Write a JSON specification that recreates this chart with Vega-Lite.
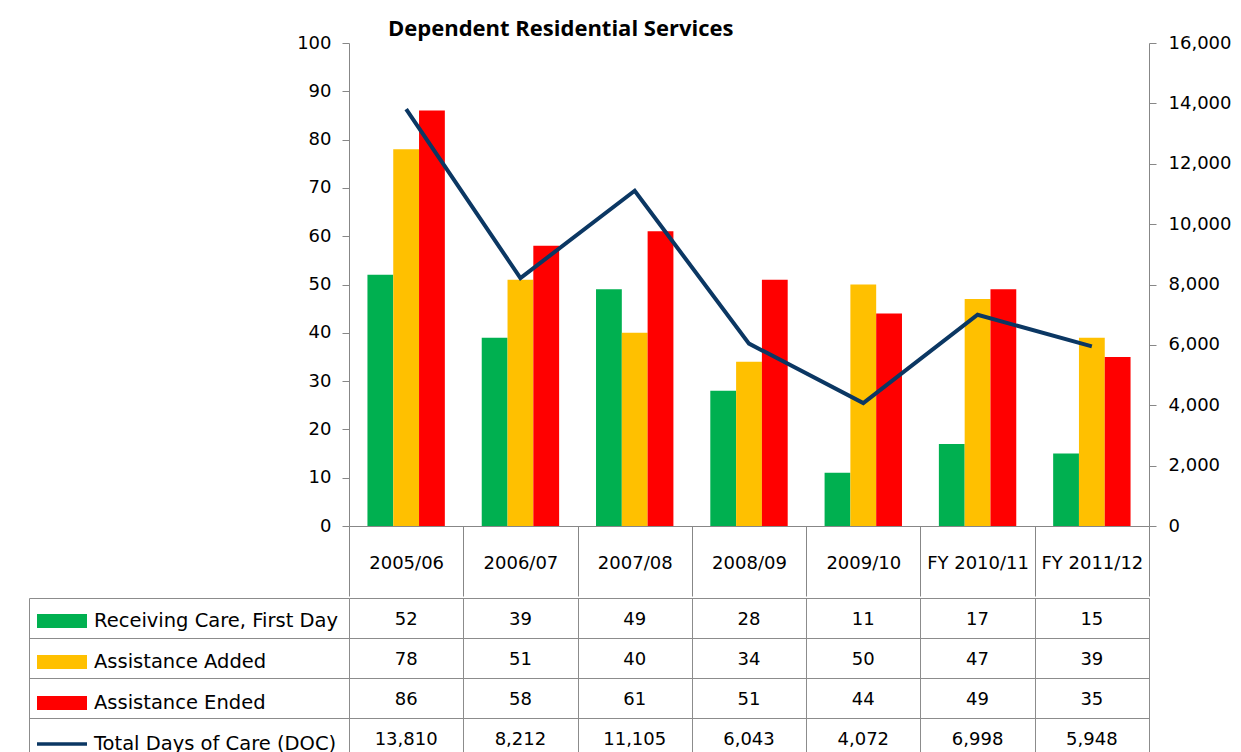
{
  "$schema": "https://vega.github.io/schema/vega-lite/v6.json",
  "padding": {"left": 28, "top": 18, "right": 0, "bottom": 0},
  "background": "white",
  "config": {
    "font": "DejaVu Sans",
    "view": {"stroke": null},
    "axis": {"labelFont": "DejaVu Sans", "labelFontSize": 18, "labelColor": "black", "domainColor": "#878787", "tickColor": "#878787", "gridColor": "#8c8c8c", "title": null}
  },
  "datasets": {
    "d": [
      {"cat": "2005/06", "series": "Receiving Care, First Day", "value": 52},
      {"cat": "2006/07", "series": "Receiving Care, First Day", "value": 39},
      {"cat": "2007/08", "series": "Receiving Care, First Day", "value": 49},
      {"cat": "2008/09", "series": "Receiving Care, First Day", "value": 28},
      {"cat": "2009/10", "series": "Receiving Care, First Day", "value": 11},
      {"cat": "FY 2010/11", "series": "Receiving Care, First Day", "value": 17},
      {"cat": "FY 2011/12", "series": "Receiving Care, First Day", "value": 15},
      {"cat": "2005/06", "series": "Assistance Added", "value": 78},
      {"cat": "2006/07", "series": "Assistance Added", "value": 51},
      {"cat": "2007/08", "series": "Assistance Added", "value": 40},
      {"cat": "2008/09", "series": "Assistance Added", "value": 34},
      {"cat": "2009/10", "series": "Assistance Added", "value": 50},
      {"cat": "FY 2010/11", "series": "Assistance Added", "value": 47},
      {"cat": "FY 2011/12", "series": "Assistance Added", "value": 39},
      {"cat": "2005/06", "series": "Assistance Ended", "value": 86},
      {"cat": "2006/07", "series": "Assistance Ended", "value": 58},
      {"cat": "2007/08", "series": "Assistance Ended", "value": 61},
      {"cat": "2008/09", "series": "Assistance Ended", "value": 51},
      {"cat": "2009/10", "series": "Assistance Ended", "value": 44},
      {"cat": "FY 2010/11", "series": "Assistance Ended", "value": 49},
      {"cat": "FY 2011/12", "series": "Assistance Ended", "value": 35},
      {"cat": "2005/06", "series": "Total Days of Care (DOC)", "value": 13810},
      {"cat": "2006/07", "series": "Total Days of Care (DOC)", "value": 8212},
      {"cat": "2007/08", "series": "Total Days of Care (DOC)", "value": 11105},
      {"cat": "2008/09", "series": "Total Days of Care (DOC)", "value": 6043},
      {"cat": "2009/10", "series": "Total Days of Care (DOC)", "value": 4072},
      {"cat": "FY 2010/11", "series": "Total Days of Care (DOC)", "value": 6998},
      {"cat": "FY 2011/12", "series": "Total Days of Care (DOC)", "value": 5948}
    ]
  },
  "spacing": 0,
  "vconcat": [
    {
      "title": {"text": "Dependent Residential Services", "anchor": "start", "frame": "group", "dx": 39, "font": "Open Sans", "fontSize": 22, "fontWeight": "bold", "color": "black", "offset": -7},
      "width": 800,
      "height": 483,
      "data": {"name": "d"},
      "encoding": {
        "x": {
          "field": "cat", "type": "nominal",
          "sort": ["2005/06", "2006/07", "2007/08", "2008/09", "2009/10", "FY 2010/11", "FY 2011/12"],
          "scale": {"paddingInner": 0, "paddingOuter": 0},
          "axis": {"orient": "bottom", "tickBand": "extent", "tickSize": 70, "labelAngle": 0, "labelPadding": -33, "labelBaseline": "middle", "grid": false, "labelLimit": 0}
        }
      },
      "layer": [
        {
          "transform": [{"filter": "datum.series !== 'Total Days of Care (DOC)'"}],
          "mark": {"type": "bar"},
          "encoding": {
            "xOffset": {"field": "series", "type": "nominal", "sort": ["Receiving Care, First Day", "Assistance Added", "Assistance Ended"], "scale": {"paddingInner": 0, "paddingOuter": 0.715}},
            "y": {"field": "value", "type": "quantitative", "scale": {"domain": [0, 100], "nice": false},
                  "axis": {"orient": "left", "values": [0, 10, 20, 30, 40, 50, 60, 70, 80, 90, 100], "grid": false, "tickSize": 7, "labelPadding": 11, "minExtent": 320, "maxExtent": 400}},
            "color": {
              "field": "series", "type": "nominal",
              "scale": {"domain": ["Receiving Care, First Day", "Assistance Added", "Assistance Ended", "Total Days of Care (DOC)"], "range": ["#00B050", "#FFC000", "#FF0000", "#0B3763"]},
              "legend": {
                "orient": "none", "legendX": -312, "legendY": 553, "title": null, "padding": 0,
                "symbolType": "M-1,-0.28H1V0.28H-1Z", "symbolSize": 2500, "symbolStrokeWidth": 0,
                "labelFont": "DejaVu Sans", "labelFontSize": 19.5, "labelColor": "black", "labelOffset": 7, "labelLimit": 400,
                "rowPadding": 6,
                "encode": {"symbols": {"update": {"shape": {"signal": "datum.value === 'Total Days of Care (DOC)' ? 'M-1,-0.07H1V0.07H-1Z' : 'M-1,-0.28H1V0.28H-1Z'"}}}}
              }
            }
          }
        },
        {
          "transform": [{"filter": "datum.series === 'Total Days of Care (DOC)'"}],
          "mark": {"type": "line", "strokeWidth": 4, "color": "#0B3763"},
          "encoding": {
            "y": {"field": "value", "type": "quantitative", "scale": {"domain": [0, 16000], "nice": false},
                  "axis": {"orient": "right", "values": [0, 2000, 4000, 6000, 8000, 10000, 12000, 14000, 16000], "format": ",d", "grid": false, "tickSize": 7, "labelPadding": 12}}
          }
        }
      ],
      "resolve": {"scale": {"y": "independent"}}
    },
    {
      "width": 800,
      "height": 160,
      "data": {"name": "d"},
      "encoding": {
        "x": {
          "field": "cat", "type": "nominal",
          "sort": ["2005/06", "2006/07", "2007/08", "2008/09", "2009/10", "FY 2010/11", "FY 2011/12"],
          "scale": {"paddingInner": 0, "paddingOuter": 0},
          "axis": {"orient": "bottom", "labels": false, "ticks": false, "domain": false, "grid": true, "tickBand": "extent"}
        }
      },
      "layer": [
        {
          "mark": {"type": "rect", "fillOpacity": 0, "strokeOpacity": 0},
          "encoding": {
            "y": {"field": "series", "type": "nominal",
                  "sort": ["Receiving Care, First Day", "Assistance Added", "Assistance Ended", "Total Days of Care (DOC)"],
                  "scale": {"paddingInner": 0, "paddingOuter": 0},
                  "axis": {"orient": "left", "offset": 320, "labels": false, "ticks": false, "domain": true, "grid": false, "domainColor": "#8c8c8c"}}
          }
        },
        {
          "mark": {"type": "text", "fontSize": 18, "color": "black", "dy": 2, "font": "DejaVu Sans"},
          "encoding": {
            "y": {"field": "series", "type": "nominal",
                  "sort": ["Receiving Care, First Day", "Assistance Added", "Assistance Ended", "Total Days of Care (DOC)"],
                  "axis": {"orient": "left", "labels": false, "domain": false, "ticks": true, "tickBand": "extent", "tickSize": 320, "tickColor": "#8c8c8c", "grid": true, "minExtent": 320, "maxExtent": 400}},
            "text": {"field": "value", "type": "quantitative", "format": ","}
          }
        }
      ],
      "resolve": {"axis": {"y": "independent"}}
    }
  ]
}
